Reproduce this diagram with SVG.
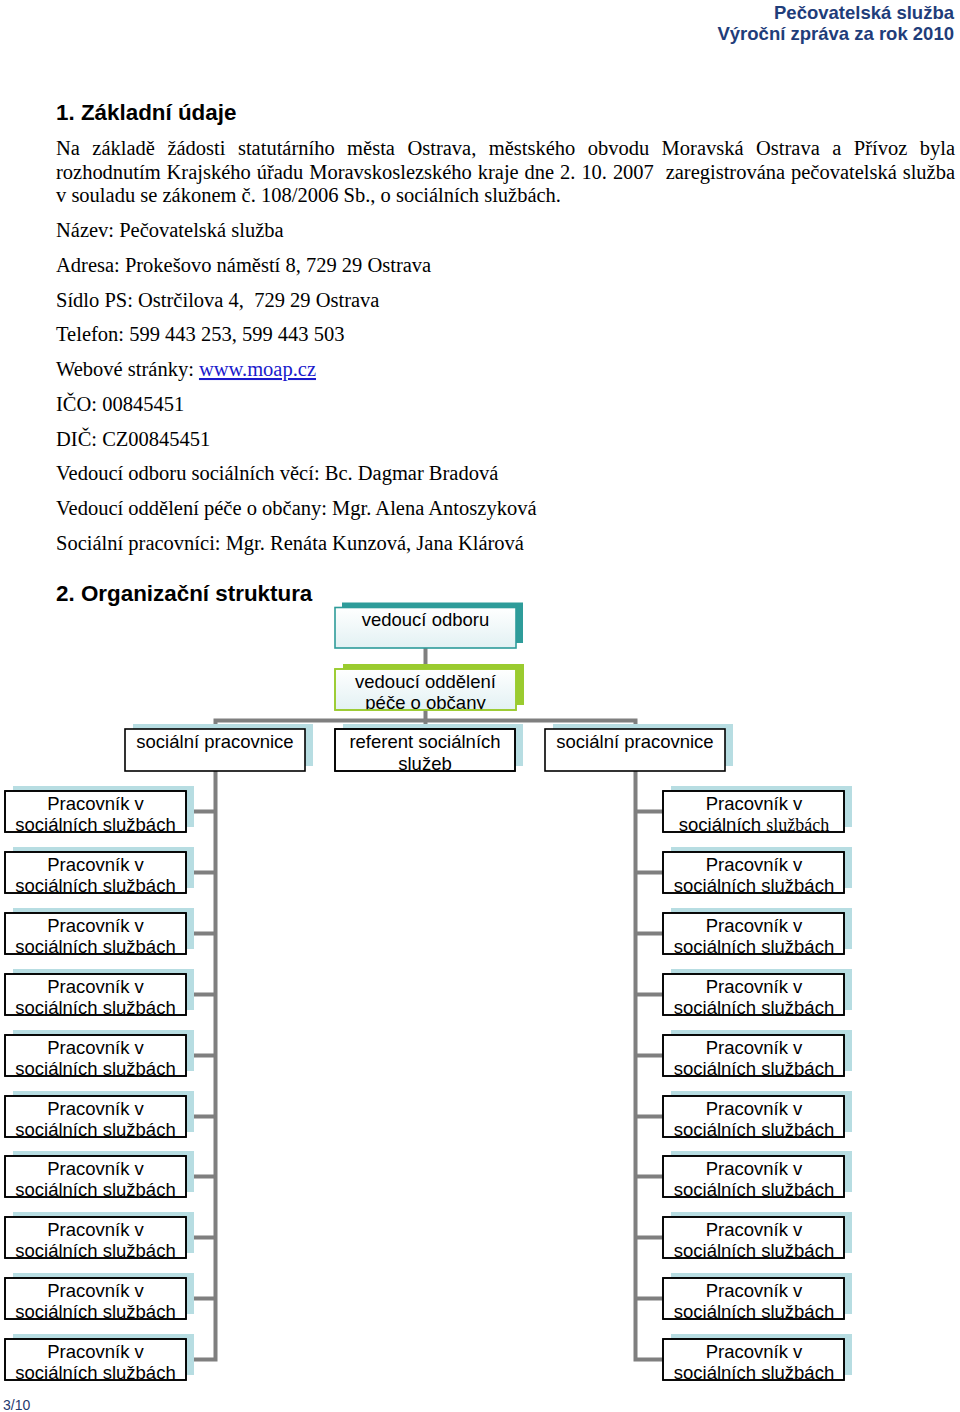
<svg xmlns="http://www.w3.org/2000/svg" width="960" height="1412" viewBox="0 0 960 1412">
<style>
.hdr{font-family:"Liberation Sans",Arial,sans-serif;font-weight:bold;font-size:18.5px;fill:#1f3d7a;text-anchor:end}
.h1{font-family:"Liberation Sans",Arial,sans-serif;font-weight:bold;font-size:22.4px;fill:#000}
.body{font-family:"Liberation Serif","Times New Roman",serif;font-size:20.5px;fill:#000}
.link{fill:#1a1acc;text-decoration:underline}
.foot{font-family:"Liberation Sans",Arial,sans-serif;font-size:14px;fill:#1f3a6e}
.t{font-family:"Liberation Sans",Arial,sans-serif;font-size:18.5px;fill:#000;text-anchor:middle}
.ser{font-family:"Liberation Serif","Times New Roman",serif;font-size:18px}
.conn{fill:none;stroke:#7f7f7f;stroke-width:4;stroke-linejoin:miter}
.bk{fill:#b7dde2}
.fr{fill:#fff;stroke:#000;stroke-width:1.6}
.bd{fill:none;stroke:#000;stroke-width:1.6}
.bk1{fill:#2e9c9a}
.fr1{fill:url(#g);stroke:#2e9c9a;stroke-width:1.6}
.bk2{fill:#9acb2f}
.fr2{fill:url(#g);stroke:#9acb2f;stroke-width:1.6}
.bd2{fill:none;stroke:#9acb2f;stroke-width:1.6}
</style>
<defs>
<linearGradient id="g" x1="0" y1="0" x2="0" y2="1">
<stop offset="0" stop-color="#ffffff"/>
<stop offset="1" stop-color="#e2f1f3"/>
</linearGradient>
<clipPath id="cw"><rect x="0" y="0" width="181" height="41"/></clipPath>
<clipPath id="c3"><rect x="0" y="0" width="180" height="42"/></clipPath>
<clipPath id="c2"><rect x="0" y="0" width="181" height="41"/></clipPath>
</defs>
<rect width="960" height="1412" fill="#fff"/>

<g id="header">
<text class="hdr" x="954" y="19">Pečovatelská služba</text>
<text class="hdr" x="954" y="40">Výroční zpráva za rok 2010</text>
</g>

<g id="section1">
<text class="h1" x="56" y="120">1. Základní údaje</text>
<text class="body" x="56" y="155" word-spacing="7.3" textLength="899" lengthAdjust="spacing">Na základě žádosti statutárního města Ostrava, městského obvodu Moravská Ostrava a Přívoz byla</text>
<text class="body" x="56" y="178.5" xml:space="preserve" word-spacing="0.8" textLength="899" lengthAdjust="spacing">rozhodnutím Krajského úřadu Moravskoslezského kraje dne 2. 10. 2007  zaregistrována pečovatelská služba</text>
<text class="body" x="56" y="202">v souladu se zákonem č. 108/2006 Sb., o sociálních službách.</text>
<text class="body" x="56" y="237">Název: Pečovatelská služba</text>
<text class="body" x="56" y="272">Adresa: Prokešovo náměstí 8, 729 29 Ostrava</text>
<text class="body" x="56" y="307" xml:space="preserve">Sídlo PS: Ostrčilova 4,  729 29 Ostrava</text>
<text class="body" x="56" y="341">Telefon: 599 443 253, 599 443 503</text>
<text class="body" x="56" y="376">Webové stránky: <tspan class="link">www.moap.cz</tspan></text>
<text class="body" x="56" y="411">IČO: 00845451</text>
<text class="body" x="56" y="446">DIČ: CZ00845451</text>
<text class="body" x="56" y="480">Vedoucí odboru sociálních věcí: Bc. Dagmar Bradová</text>
<text class="body" x="56" y="515">Vedoucí oddělení péče o občany: Mgr. Alena Antoszyková</text>
<text class="body" x="56" y="550">Sociální pracovníci: Mgr. Renáta Kunzová, Jana Klárová</text>
<text class="h1" x="56" y="601">2. Organizační struktura</text>
</g>

<g id="connectors">
<path class="conn" d="M425.5 648 V729"/>
<path class="conn" d="M215.5 729 V720.5 H635.5 V729"/>
<path class="conn" d="M215.5 771 V1359.5 H186"/>
<path class="conn" d="M215.5 811.5 H186 M215.5 872.5 H186 M215.5 933.5 H186 M215.5 994.5 H186 M215.5 1055.5 H186 M215.5 1116.5 H186 M215.5 1176.5 H186 M215.5 1237.5 H186 M215.5 1298.5 H186"/>
<path class="conn" d="M635.5 771 V1359.5 H664"/>
<path class="conn" d="M635.5 811.5 H664 M635.5 872.5 H664 M635.5 933.5 H664 M635.5 994.5 H664 M635.5 1055.5 H664 M635.5 1116.5 H664 M635.5 1176.5 H664 M635.5 1237.5 H664 M635.5 1298.5 H664"/>
</g>

<g id="n-vedouci-odboru" transform="translate(335,607.5)">
<rect class="bk1" x="7" y="-5" width="181" height="40.5"/>
<rect class="fr1" x="0" y="0" width="181" height="40.5"/>
<text class="t" x="90.5" y="18.5">vedoucí odboru</text>
</g>

<g id="n-vedouci-oddeleni" transform="translate(335,669)">
<rect class="bk2" x="8" y="-5" width="181" height="41"/>
<rect class="fr2" x="0" y="0" width="181" height="41"/>
<g clip-path="url(#c2)">
<text class="t" x="90.5" y="19">vedoucí oddělení</text>
<text class="t" x="90.5" y="40">péče o občany</text>
</g>
<rect class="bd2" x="0" y="0" width="181" height="41"/>
</g>

<g id="n-socialni-pracovnice-1" transform="translate(125,729)">
<rect class="bk" x="8" y="-5" width="180" height="42"/>
<rect class="fr" x="0" y="0" width="180" height="42"/>
<text class="t" x="90" y="19">sociální pracovnice</text>
</g>

<g id="n-referent" transform="translate(335,729)">
<rect class="bk" x="8" y="-5" width="180" height="42"/>
<rect class="fr" x="0" y="0" width="180" height="42"/>
<g clip-path="url(#c3)">
<text class="t" x="90" y="19">referent sociálních</text>
<text class="t" x="90" y="40.5">služeb</text>
</g>
<rect class="bd" x="0" y="0" width="180" height="42"/>
</g>

<g id="n-socialni-pracovnice-2" transform="translate(545,729)">
<rect class="bk" x="8" y="-5" width="180" height="42"/>
<rect class="fr" x="0" y="0" width="180" height="42"/>
<text class="t" x="90" y="19">sociální pracovnice</text>
</g>

<g id="n-left-1" transform="translate(5,791)"><rect class="bk" x="8" y="-5" width="181" height="41"/><rect class="fr" width="181" height="41"/><g clip-path="url(#cw)"><text class="t" x="90.5" y="18.5">Pracovník v</text><text class="t" x="90.5" y="39.5">sociálních službách</text></g><rect class="bd" width="181" height="41"/></g>
<g id="n-left-2" transform="translate(5,852)"><rect class="bk" x="8" y="-5" width="181" height="41"/><rect class="fr" width="181" height="41"/><g clip-path="url(#cw)"><text class="t" x="90.5" y="18.5">Pracovník v</text><text class="t" x="90.5" y="39.5">sociálních službách</text></g><rect class="bd" width="181" height="41"/></g>
<g id="n-left-3" transform="translate(5,913)"><rect class="bk" x="8" y="-5" width="181" height="41"/><rect class="fr" width="181" height="41"/><g clip-path="url(#cw)"><text class="t" x="90.5" y="18.5">Pracovník v</text><text class="t" x="90.5" y="39.5">sociálních službách</text></g><rect class="bd" width="181" height="41"/></g>
<g id="n-left-4" transform="translate(5,974)"><rect class="bk" x="8" y="-5" width="181" height="41"/><rect class="fr" width="181" height="41"/><g clip-path="url(#cw)"><text class="t" x="90.5" y="18.5">Pracovník v</text><text class="t" x="90.5" y="39.5">sociálních službách</text></g><rect class="bd" width="181" height="41"/></g>
<g id="n-left-5" transform="translate(5,1035)"><rect class="bk" x="8" y="-5" width="181" height="41"/><rect class="fr" width="181" height="41"/><g clip-path="url(#cw)"><text class="t" x="90.5" y="18.5">Pracovník v</text><text class="t" x="90.5" y="39.5">sociálních službách</text></g><rect class="bd" width="181" height="41"/></g>
<g id="n-left-6" transform="translate(5,1096)"><rect class="bk" x="8" y="-5" width="181" height="41"/><rect class="fr" width="181" height="41"/><g clip-path="url(#cw)"><text class="t" x="90.5" y="18.5">Pracovník v</text><text class="t" x="90.5" y="39.5">sociálních službách</text></g><rect class="bd" width="181" height="41"/></g>
<g id="n-left-7" transform="translate(5,1156)"><rect class="bk" x="8" y="-5" width="181" height="41"/><rect class="fr" width="181" height="41"/><g clip-path="url(#cw)"><text class="t" x="90.5" y="18.5">Pracovník v</text><text class="t" x="90.5" y="39.5">sociálních službách</text></g><rect class="bd" width="181" height="41"/></g>
<g id="n-left-8" transform="translate(5,1217)"><rect class="bk" x="8" y="-5" width="181" height="41"/><rect class="fr" width="181" height="41"/><g clip-path="url(#cw)"><text class="t" x="90.5" y="18.5">Pracovník v</text><text class="t" x="90.5" y="39.5">sociálních službách</text></g><rect class="bd" width="181" height="41"/></g>
<g id="n-left-9" transform="translate(5,1278)"><rect class="bk" x="8" y="-5" width="181" height="41"/><rect class="fr" width="181" height="41"/><g clip-path="url(#cw)"><text class="t" x="90.5" y="18.5">Pracovník v</text><text class="t" x="90.5" y="39.5">sociálních službách</text></g><rect class="bd" width="181" height="41"/></g>
<g id="n-left-10" transform="translate(5,1339)"><rect class="bk" x="8" y="-5" width="181" height="41"/><rect class="fr" width="181" height="41"/><g clip-path="url(#cw)"><text class="t" x="90.5" y="18.5">Pracovník v</text><text class="t" x="90.5" y="39.5">sociálních službách</text></g><rect class="bd" width="181" height="41"/></g>

<g id="n-right-1" transform="translate(663,791)"><rect class="bk" x="8" y="-5" width="181" height="41"/><rect class="fr" width="181" height="41"/><g clip-path="url(#cw)"><text class="t" x="91" y="18.5">Pracovník v</text><text class="t" x="91" y="39.5">sociálních <tspan class="ser">službách</tspan></text></g><rect class="bd" width="181" height="41"/></g>
<g id="n-right-2" transform="translate(663,852)"><rect class="bk" x="8" y="-5" width="181" height="41"/><rect class="fr" width="181" height="41"/><g clip-path="url(#cw)"><text class="t" x="91" y="18.5">Pracovník v</text><text class="t" x="91" y="39.5">sociálních službách</text></g><rect class="bd" width="181" height="41"/></g>
<g id="n-right-3" transform="translate(663,913)"><rect class="bk" x="8" y="-5" width="181" height="41"/><rect class="fr" width="181" height="41"/><g clip-path="url(#cw)"><text class="t" x="91" y="18.5">Pracovník v</text><text class="t" x="91" y="39.5">sociálních službách</text></g><rect class="bd" width="181" height="41"/></g>
<g id="n-right-4" transform="translate(663,974)"><rect class="bk" x="8" y="-5" width="181" height="41"/><rect class="fr" width="181" height="41"/><g clip-path="url(#cw)"><text class="t" x="91" y="18.5">Pracovník v</text><text class="t" x="91" y="39.5">sociálních službách</text></g><rect class="bd" width="181" height="41"/></g>
<g id="n-right-5" transform="translate(663,1035)"><rect class="bk" x="8" y="-5" width="181" height="41"/><rect class="fr" width="181" height="41"/><g clip-path="url(#cw)"><text class="t" x="91" y="18.5">Pracovník v</text><text class="t" x="91" y="39.5">sociálních službách</text></g><rect class="bd" width="181" height="41"/></g>
<g id="n-right-6" transform="translate(663,1096)"><rect class="bk" x="8" y="-5" width="181" height="41"/><rect class="fr" width="181" height="41"/><g clip-path="url(#cw)"><text class="t" x="91" y="18.5">Pracovník v</text><text class="t" x="91" y="39.5">sociálních službách</text></g><rect class="bd" width="181" height="41"/></g>
<g id="n-right-7" transform="translate(663,1156)"><rect class="bk" x="8" y="-5" width="181" height="41"/><rect class="fr" width="181" height="41"/><g clip-path="url(#cw)"><text class="t" x="91" y="18.5">Pracovník v</text><text class="t" x="91" y="39.5">sociálních službách</text></g><rect class="bd" width="181" height="41"/></g>
<g id="n-right-8" transform="translate(663,1217)"><rect class="bk" x="8" y="-5" width="181" height="41"/><rect class="fr" width="181" height="41"/><g clip-path="url(#cw)"><text class="t" x="91" y="18.5">Pracovník v</text><text class="t" x="91" y="39.5">sociálních službách</text></g><rect class="bd" width="181" height="41"/></g>
<g id="n-right-9" transform="translate(663,1278)"><rect class="bk" x="8" y="-5" width="181" height="41"/><rect class="fr" width="181" height="41"/><g clip-path="url(#cw)"><text class="t" x="91" y="18.5">Pracovník v</text><text class="t" x="91" y="39.5">sociálních službách</text></g><rect class="bd" width="181" height="41"/></g>
<g id="n-right-10" transform="translate(663,1339)"><rect class="bk" x="8" y="-5" width="181" height="41"/><rect class="fr" width="181" height="41"/><g clip-path="url(#cw)"><text class="t" x="91" y="18.5">Pracovník v</text><text class="t" x="91" y="39.5">sociálních službách</text></g><rect class="bd" width="181" height="41"/></g>

<g id="footer">
<text class="foot" x="3" y="1410">3/10</text>
</g>
</svg>
